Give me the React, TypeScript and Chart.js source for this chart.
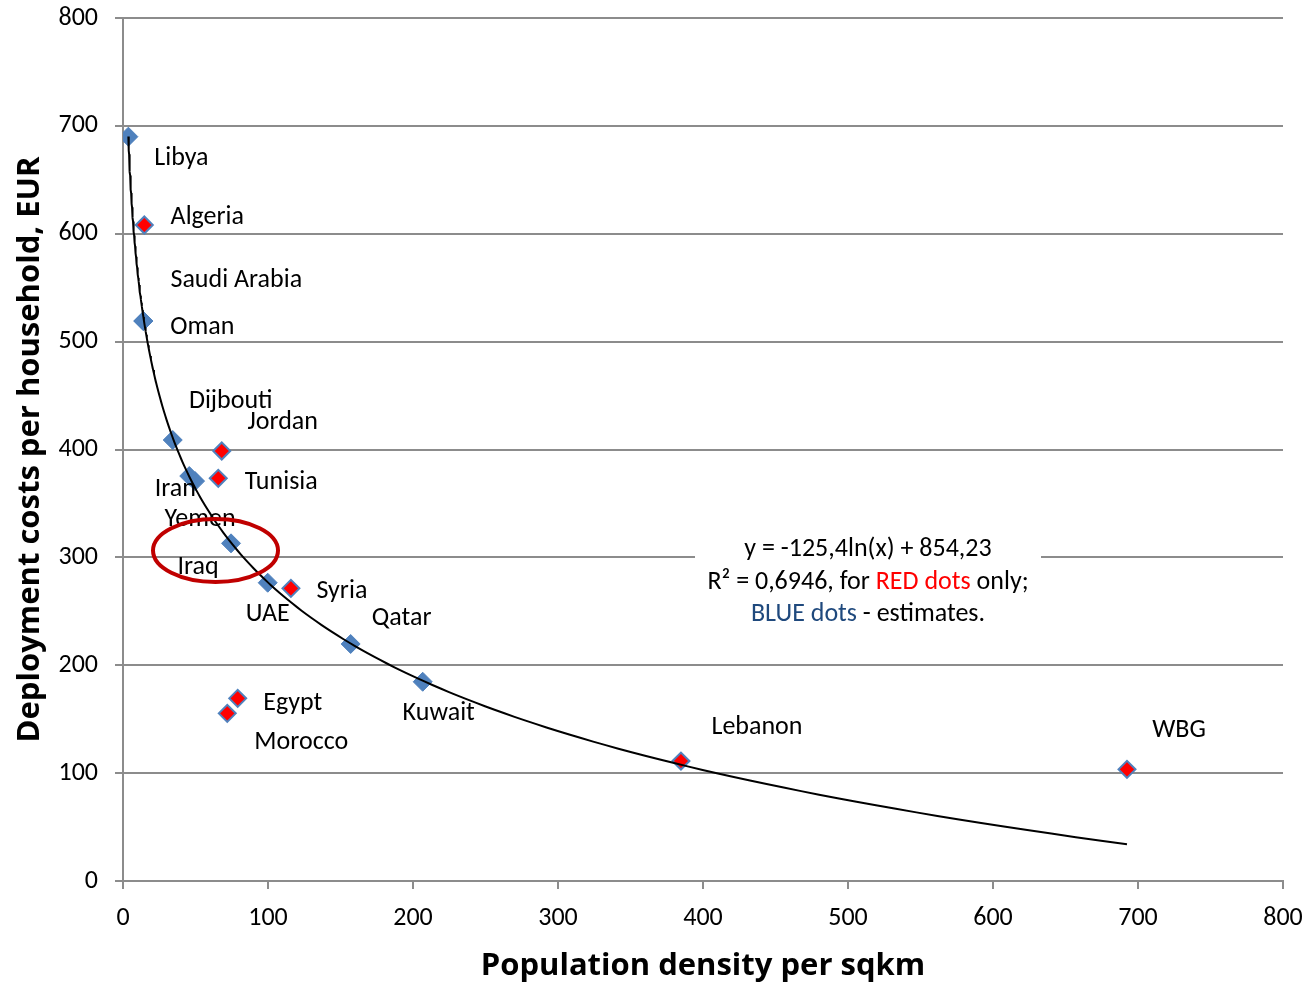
import React, { useEffect, useRef } from "react";
import { Chart, registerables } from "chart.js";

Chart.register(...registerables);

// Measured countries (red dots)
const RED_NAMES = ["Algeria", "Jordan", "Tunisia", "Syria", "Egypt", "Morocco", "Lebanon", "WBG"];
const RED_X = [14.7, 68.1, 65.7, 115.8, 79.1, 71.9, 384.8, 692.4];
const RED_Y = [608.1, 398.6, 373.3, 271.3, 169.3, 155.4, 111.2, 103.5];

// Estimated countries (blue dots)
const BLUE_NAMES = ["Libya", "Saudi Arabia", "Oman", "Dijbouti", "Iran", "Yemen", "Iraq", "UAE", "Qatar", "Kuwait"];
const BLUE_X = [3.7, 14.0, 14.0, 34.3, 45.7, 49.7, 74.5, 99.8, 157.0, 206.7];
const BLUE_Y = [690.0, 519.1, 519.1, 408.8, 375.4, 370.7, 313.0, 276.5, 219.7, 184.7];

// Logarithmic trendline printed on the chart: y = -125,4 ln(x) + 854,23
const TREND_SLOPE = -125.4;
const TREND_INTERCEPT = 854.23;
const TREND_X_START = 3.7;
const TREND_X_END = 692.4;
const TREND_SAMPLES = 200;

const X_TICKS = [0, 100, 200, 300, 400, 500, 600, 700, 800];
const Y_TICKS = [0, 100, 200, 300, 400, 500, 600, 700, 800];

const X_TITLE = "Population density per sqkm";
const Y_TITLE = "Deployment costs per household, EUR";

const EQ_LINE1 = "y = -125,4ln(x) + 854,23";
const EQ_LINE2 = [
  { t: "R\u00B2 = 0,6946, for ", c: "#000000" },
  { t: "RED dots", c: "#FF0000" },
  { t: " only;", c: "#000000" },
];
const EQ_LINE3 = [
  { t: "BLUE dots", c: "#1F497D" },
  { t: " - estimates.", c: "#000000" },
];

// label offsets (pixels from the marker centre)
const LABEL_OFFSETS: Record<string, [number, number]> = {
  Libya: [53, 20],
  Algeria: [63, -10],
  "Saudi Arabia": [93, -43],
  Oman: [59, 4],
  Dijbouti: [58, -41],
  Iran: [-14, 11],
  Yemen: [5, 36],
  Jordan: [61, -31],
  Tunisia: [63, 2],
  Iraq: [-33, 22],
  UAE: [0, 30],
  Syria: [51, 1],
  Qatar: [51, -27],
  Kuwait: [16, 30],
  Egypt: [55, 3],
  Morocco: [74, 27],
  Lebanon: [76, -36],
  WBG: [52, -41],
};
const LABEL_NUDGE_Y = 2;

// highlighted ellipse (data units)
const ELLIPSE = { cx: 63.8, cy: 306.4, rx: 43.1, ry: 29.2 };
// equation text box centre (data units)
const EQ_BOX = { x: 513.8, y: 279 };

const FONT = "Carlito, Calibri, Lato, 'Open Sans', sans-serif";
const TITLE_FONT = "'Open Sans', Lato, sans-serif";
const LABEL_SIZE = 26;
const GRID = "#8C8C8C";

const zeroPadding = (s: any) => {
  s.paddingTop = 0;
  s.paddingBottom = 0;
  s.paddingLeft = 0;
  s.paddingRight = 0;
};

export default function App() {
  const ref = useRef<HTMLCanvasElement | null>(null);

  useEffect(() => {
    if (!ref.current) return;
    const trend: { x: number; y: number }[] = [];
    const l0 = Math.log(TREND_X_START);
    const l1 = Math.log(TREND_X_END);
    for (let i = 0; i <= TREND_SAMPLES; i++) {
      const x = Math.exp(l0 + ((l1 - l0) * i) / TREND_SAMPLES);
      trend.push({ x, y: TREND_SLOPE * Math.log(x) + TREND_INTERCEPT });
    }

    const names: string[][] = [BLUE_NAMES, RED_NAMES, []];

    const overlay = {
      id: "overlay",
      beforeDatasetsDraw(chart: any) {
        const ctx = chart.ctx;
        const xs = chart.scales.x;
        const ys = chart.scales.y;
        const cx = xs.getPixelForValue(EQ_BOX.x);
        const cy = ys.getPixelForValue(EQ_BOX.y);
        ctx.save();
        ctx.fillStyle = "#FFFFFF";
        ctx.fillRect(cx - 173, cy - 50, 346, 98);
        ctx.restore();
      },
      afterDatasetsDraw(chart: any) {
        const ctx = chart.ctx;
        const xs = chart.scales.x;
        const ys = chart.scales.y;
        ctx.save();
        ctx.font = `${LABEL_SIZE}px ${FONT}`;
        ctx.textAlign = "center";
        ctx.textBaseline = "middle";
        ctx.fillStyle = "#000000";
        chart.data.datasets.forEach((ds: any, di: number) => {
          const meta = chart.getDatasetMeta(di);
          const nm = names[di] || [];
          nm.forEach((n, i) => {
            const el = meta.data[i];
            if (!el) return;
            const off = LABEL_OFFSETS[n] || [0, 0];
            ctx.fillText(n, el.x + off[0], el.y + off[1] + LABEL_NUDGE_Y);
          });
        });

        // equation text
        const cx = xs.getPixelForValue(EQ_BOX.x);
        const cy = ys.getPixelForValue(EQ_BOX.y) + 2;
        ctx.fillText(EQ_LINE1, cx, cy - 33);
        const drawSegs = (segs: { t: string; c: string }[], y: number) => {
          const total = segs.reduce((s, g) => s + ctx.measureText(g.t).width, 0);
          let x = cx - total / 2;
          ctx.textAlign = "left";
          segs.forEach((g) => {
            ctx.fillStyle = g.c;
            ctx.fillText(g.t, x, y);
            x += ctx.measureText(g.t).width;
          });
          ctx.textAlign = "center";
        };
        drawSegs(EQ_LINE2, cy);
        drawSegs(EQ_LINE3, cy + 32);

        // ellipse
        const ex = xs.getPixelForValue(ELLIPSE.cx);
        const ey = ys.getPixelForValue(ELLIPSE.cy);
        const erx = Math.abs(xs.getPixelForValue(ELLIPSE.cx + ELLIPSE.rx) - ex);
        const ery = Math.abs(ys.getPixelForValue(ELLIPSE.cy + ELLIPSE.ry) - ey);
        ctx.beginPath();
        ctx.ellipse(ex, ey, erx, ery, 0, 0, Math.PI * 2);
        ctx.strokeStyle = "#C00000";
        ctx.lineWidth = 4;
        ctx.stroke();
        ctx.restore();
      },
    };

    const chart = new Chart(ref.current, {
      type: "scatter",
      data: {
        datasets: [
          {
            label: "Estimates",
            data: BLUE_X.map((x, i) => ({ x, y: BLUE_Y[i] })),
            pointStyle: "rectRot",
            pointRadius: 9.5,
            backgroundColor: "#4F81BD",
            borderColor: "#4F81BD",
            borderWidth: 1,
            order: 2,
          },
          {
            label: "Measured",
            data: RED_X.map((x, i) => ({ x, y: RED_Y[i] })),
            pointStyle: "rectRot",
            pointRadius: 8.5,
            backgroundColor: "#FF0000",
            borderColor: "#4F81BD",
            borderWidth: 2,
            order: 1,
          },
          {
            type: "line" as any,
            label: "Trend",
            data: trend,
            borderColor: "#000000",
            borderWidth: 2,
            pointRadius: 0,
            fill: false,
            tension: 0,
            order: 0,
          },
        ],
      },
      options: {
        responsive: false,
        animation: false,
        layout: { padding: { top: 18, right: 26, left: 0, bottom: 0 } },
        plugins: {
          legend: { display: false },
          tooltip: { enabled: false },
        },
        scales: {
          x: {
            type: "linear",
            min: 0,
            max: 800,
            afterBuildTicks: (s: any) => {
              s.ticks = X_TICKS.map((v) => ({ value: v }));
            },
            afterFit: (s: any) => {
              s.height = 101;
              zeroPadding(s);
            },
            ticks: {
              color: "#000000",
              padding: 14,
              font: { family: FONT, size: LABEL_SIZE },
            },
            grid: {
              drawOnChartArea: false,
              drawTicks: true,
              tickLength: 8,
              color: GRID,
              lineWidth: 2,
            },
            border: { display: true, color: GRID, width: 2 },
            title: {
              display: true,
              text: X_TITLE,
              color: "#000000",
              font: { family: TITLE_FONT, size: 31, weight: "bold", lineHeight: 1.0 },
              padding: { top: 0, bottom: 0 },
            },
          },
          y: {
            type: "linear",
            min: 0,
            max: 800,
            afterBuildTicks: (s: any) => {
              s.ticks = Y_TICKS.map((v) => ({ value: v }));
            },
            afterFit: (s: any) => {
              s.width = 123;
              zeroPadding(s);
            },
            ticks: {
              color: "#000000",
              padding: 17,
              font: { family: FONT, size: LABEL_SIZE },
            },
            grid: {
              drawOnChartArea: true,
              drawTicks: true,
              tickLength: 8,
              color: GRID,
              lineWidth: 2,
            },
            border: { display: true, color: GRID, width: 2 },
            title: {
              display: true,
              text: Y_TITLE,
              color: "#000000",
              font: { family: TITLE_FONT, size: 31, weight: "bold" },
              padding: { top: 12, bottom: 0 },
            },
          },
        },
      },
      plugins: [overlay],
    });
    return () => chart.destroy();
  }, []);

  return (
    <div style={{ position: "absolute", left: 0, top: 0, width: 1309, height: 982, background: "#fff" }}>
      <canvas ref={ref} width={1309} height={982} style={{ display: "block" }} />
    </div>
  );
}
